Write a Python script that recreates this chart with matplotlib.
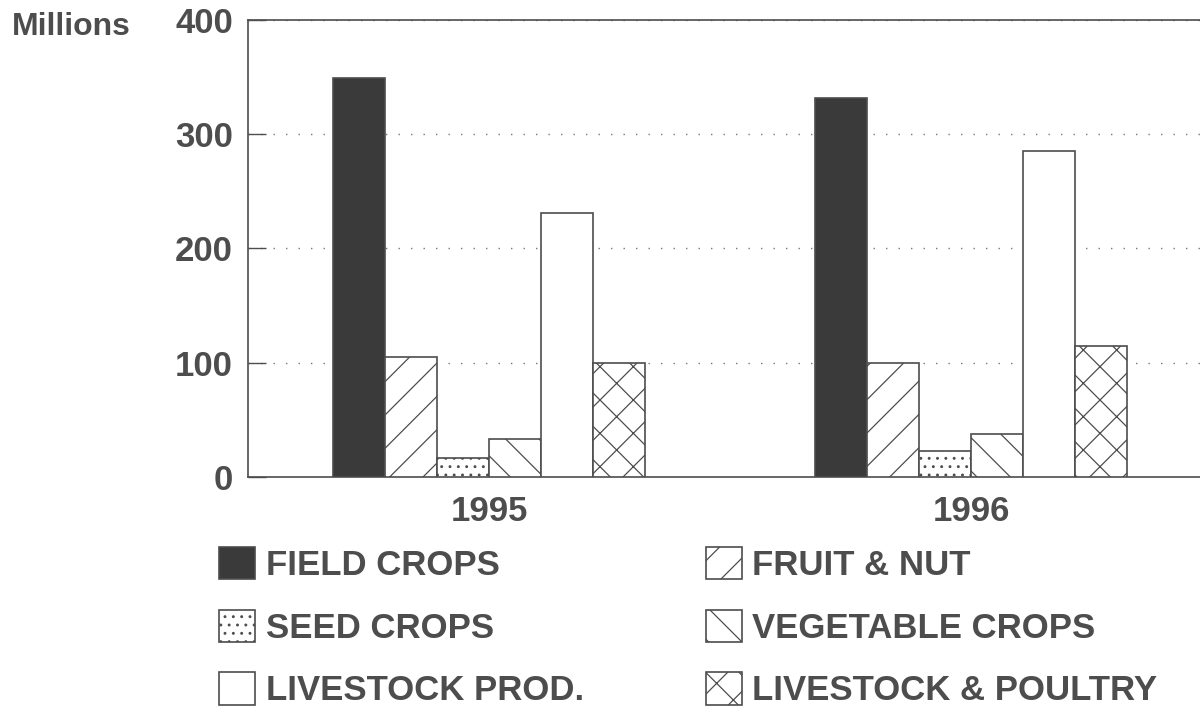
import numpy as np
import matplotlib
matplotlib.use("Agg")
import matplotlib.pyplot as plt

years = ["1995", "1996"]
categories = ["FIELD CROPS", "FRUIT & NUT", "SEED CROPS",
              "VEGETABLE CROPS", "LIVESTOCK PROD.", "LIVESTOCK & POULTRY"]
field_crops = [349, 332]
fruit_nut = [105, 100]
seed_crops = [17, 23]
vegetable_crops = [33, 38]
livestock_prod = [231, 285]
livestock_poultry = [100, 115]
yticks = [0, 100, 200, 300, 400]

series = [field_crops, fruit_nut, seed_crops, vegetable_crops,
          livestock_prod, livestock_poultry]
fills = ["#3a3a3a", "white", "white", "white", "white", "white"]
hatches = [None, "/", "..", "\\", None, "x"]

gray = "#4d4d4d"
plt.rcParams["font.family"] = ["Liberation Sans", "DejaVu Sans"]
plt.rcParams["font.weight"] = "bold"
plt.rcParams["hatch.linewidth"] = 0.9

fig = plt.figure(figsize=(12, 7.14), dpi=100)
ax = fig.add_axes([0.2067, 0.332, 0.7933, 0.640])

x = np.arange(len(years))
w = 0.108
bars = []
for i, vals in enumerate(series):
    b = ax.bar(x + (i - 2.5) * w, vals, w, color=fills[i], edgecolor=gray,
               hatch=hatches[i], linewidth=1.2, zorder=3, label=categories[i])
    bars.append(b)

ax.set_xlim(-0.5, 1.475)
ax.set_ylim(0, 400)
ax.set_yticks(yticks)
ax.set_xticks(x)
ax.set_xticklabels(years)
ax.yaxis.grid(True, linestyle=(0, (1, 8)), color="#777777", linewidth=1, zorder=0)
ax.tick_params(axis="y", direction="in", length=13, width=1, color=gray,
               labelsize=25, labelcolor=gray, pad=11)
ax.tick_params(axis="x", length=0, labelsize=25, labelcolor=gray, pad=13)
for s in ["left", "top", "bottom"]:
    ax.spines[s].set_color(gray)
    ax.spines[s].set_linewidth(1.2)
ax.spines["right"].set_visible(False)

fig.text(0.01, 0.962, "Millions", fontsize=23, color=gray, ha="left", va="center")

order = [0, 2, 4, 1, 3, 5]
fig.legend([bars[i] for i in order], [categories[i] for i in order],
           ncol=2, loc="upper left", bbox_to_anchor=(0.1825, 0.234),
           frameon=False, fontsize=25, labelcolor=gray,
           borderpad=0, borderaxespad=0,
           handlelength=1.05, handleheight=1.05, handletextpad=0.3,
           labelspacing=0.8, columnspacing=3.5)

fig.savefig("out.png", dpi=100)
